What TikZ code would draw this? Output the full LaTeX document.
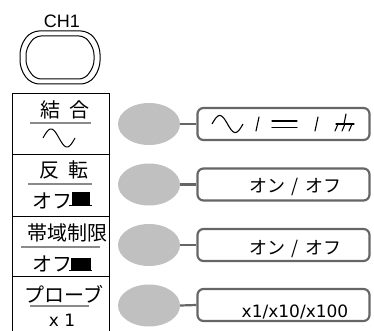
\documentclass[tikz,border=0pt]{standalone}
\usepackage{fontspec}
\setmainfont{DejaVu Sans}
\newfontfamily\jp{Noto Sans CJK JP}
\newfontfamily\arialish{Liberation Sans}
\usetikzlibrary{shapes.geometric}
\definecolor{knobgray}{HTML}{C0C0C0}
\definecolor{boxgray}{HTML}{666666}
\definecolor{ulgray}{HTML}{8A8A8A}
\tikzset{
  panelline/.style={draw=black, line width=1pt},
  uline/.style={draw=ulgray, line width=1.6pt},
  knob/.style={ellipse, fill=knobgray, draw=none, minimum width=62pt, minimum height=42pt, inner sep=0pt},
  optbox/.style={draw=boxgray, line width=2.2pt, rounded corners=6pt, minimum width=172pt, minimum height=32pt, inner sep=0pt},
  link/.style={draw=boxgray, line width=2.2pt},
  jtitle/.style={font=\jp\fontsize{20}{20}\selectfont, anchor=base, inner sep=0pt},
  jval/.style={font=\jp\fontsize{18}{18}\selectfont, anchor=base, inner sep=0pt},
  ltxt/.style={font=\fontsize{17}{17}\selectfont, anchor=base, inner sep=0pt},
  symline/.style={draw=black, line width=1.1pt, line cap=round}
}
\begin{document}
\begin{tikzpicture}[x=1pt,y=-1pt]
\useasboundingbox (0,0) rectangle (374,331);
% CH1 button
\node[font=\arialish\fontsize{18}{18}\selectfont, anchor=base, inner sep=0pt] (ch1) at (62,28) {CH1};
\draw[line width=1pt, rounded corners=8pt] (31,31) -- (89,31) -- (100,46) -- (100,69) -- (89,84) -- (31,84) -- (20,69) -- (20,46) -- cycle;
\draw[line width=1pt, rounded corners=6pt] (35,36) -- (85,36) -- (94,49) -- (94,66) -- (85,79) -- (35,79) -- (26,66) -- (26,49) -- cycle;
% panel
\draw[panelline] (12,335) -- (12,94) -- (109,94) -- (109,335);
\draw[panelline] (12,154) -- (109,154);
\draw[panelline] (12,216) -- (109,216);
\draw[panelline] (12,276) -- (109,276);
% section 1
\node[jtitle] (t1) at (65,118) {結\hspace{0.45em}合};
\draw[uline] (30,123) -- (91,123);
\draw[line width=1pt] plot[domain=0:1, samples=50] ({43+32*\x}, {138-9*sin(360*\x)});
% section 2
\node[jtitle] (t2) at (64,177) {反\hspace{0.45em}転};
\draw[uline] (28,184) -- (92,184);
\node[jtitle, anchor=base west] (o2) at (32,208) {オフ};
\fill (72,192) rectangle (90,205);
\draw[line width=1.2pt] (69,205.5) -- (92,205.5);
% section 3
\node[jtitle] (t3) at (67,240) {帯域制限};
\draw[uline] (21,247) -- (100,247);
\node[jtitle, anchor=base west] (o3) at (32,271) {オフ};
\fill (71,258) rectangle (91,270);
\draw[line width=1.2pt] (69,270.5) -- (92,270.5);
% section 4
\node[jtitle] (t4) at (64,302) {プローブ};
\draw[uline] (30,306) -- (89,306);
\node[ltxt] (v4l) at (62,326) {x 1};
% knobs
\node[knob] (k1) at (149,124) {};
\node[knob] (k2) at (149,184.5) {};
\node[knob] (k3) at (149,245) {};
\node[knob] (k4) at (149,305.5) {};
% option boxes
\node[optbox] (b1) at (283.5,124) {};
\node[optbox] (b2) at (283.5,184.5) {};
\node[optbox] (b3) at (283.5,245) {};
\node[optbox] (b4) at (283.5,305) {};
\draw[link] (k1.east) -- (b1.west);
\draw[link] (k2.east) -- (b2.west);
\draw[link] (k3.east) -- (b3.west);
\draw[link] (k4.east) -- (b4.west);
% box 1 symbols: AC / DC / GND
\draw[line width=1.1pt] plot[domain=0:1, samples=50] ({212+31*\x}, {124-8.5*sin(360*\x)});
\draw[symline] (259,117) -- (256,131);
\draw[symline] (272,121) -- (297,121);
\draw[symline] (272,127.5) -- (297,127.5);
\draw[symline] (318,117) -- (315,131);
\draw[symline] (346,114) -- (344,124);
\draw[symline] (336,124) -- (354,124);
\draw[symline] (338,124) -- (335,131);
\draw[symline] (345,124) -- (342,131);
\draw[symline] (352,124) -- (349,131);
% box texts
\node[jval] (v2) at (295.5,192) {オン\hspace{0.35em}/\hspace{0.35em}オフ};
\node[jval] (v3) at (295.5,254.5) {オン\hspace{0.35em}/\hspace{0.35em}オフ};
\node[ltxt] (v4) at (295,317) {x1/x10/x100};
\end{tikzpicture}
\end{document}
